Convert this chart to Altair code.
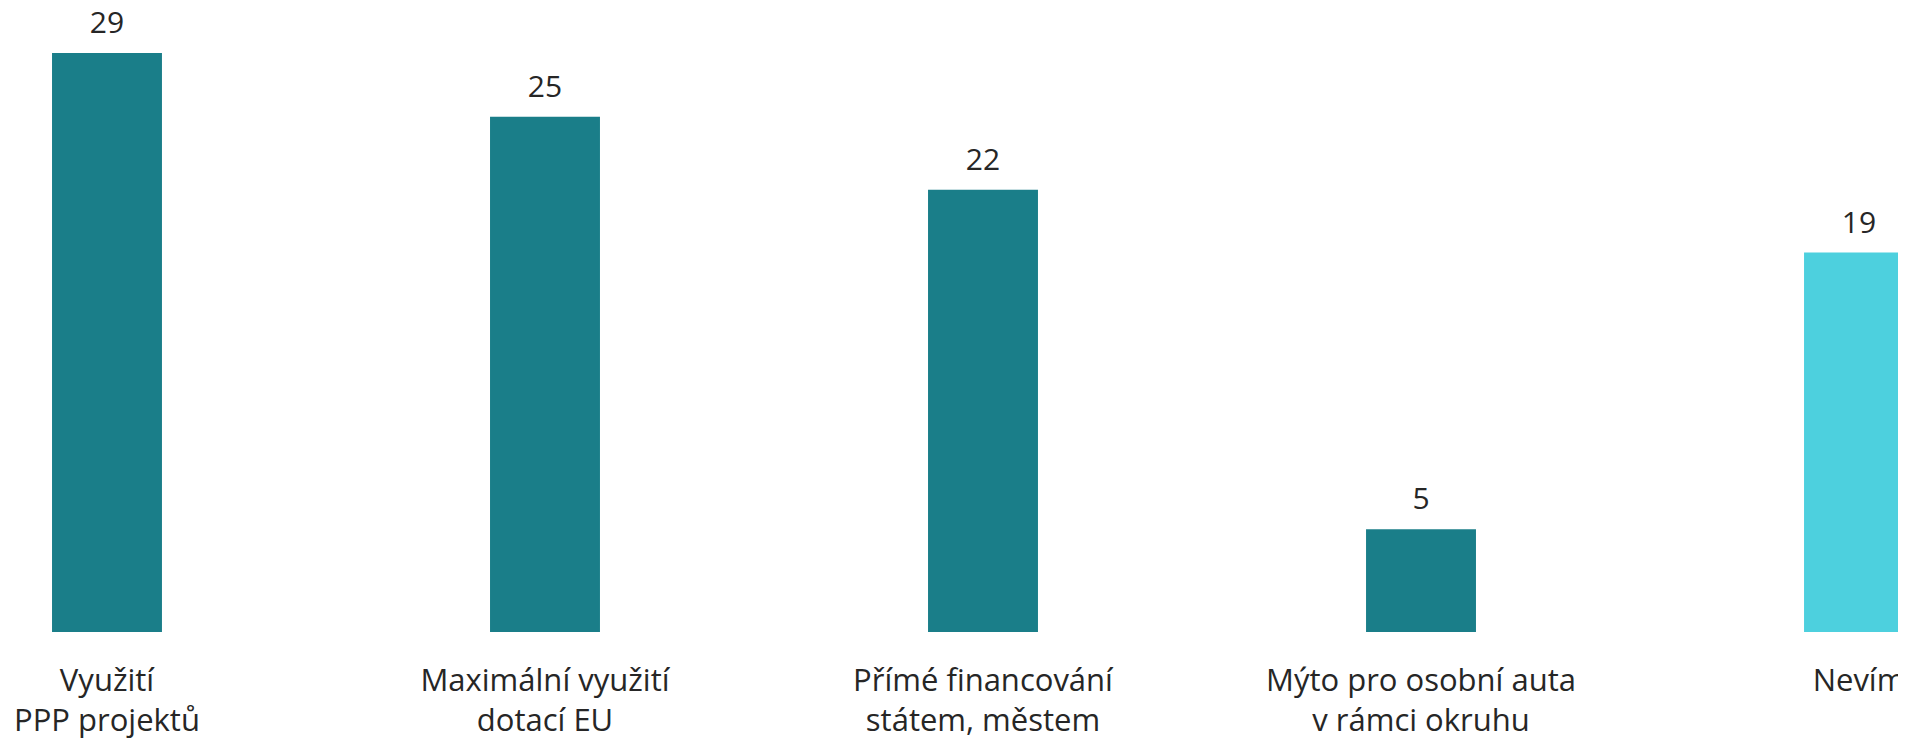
import altair as alt
import pandas as pd

categories = [
    "Využití\nPPP projektů",
    "Maximální využití\ndotací EU",
    "Přímé financování\nstátem, městem",
    "Mýto pro osobní auta\nv rámci okruhu",
    "Nevím",
]
# bar heights
values = [29, 25.8, 22.15, 5.15, 19]
# value labels as printed above the bars
value_labels = ["29", "25", "22", "5", "19"]
groups = ["answer", "answer", "answer", "answer", "dontknow"]
group_colors = ["#1A7E89", "#4DD0DE"]

df = pd.DataFrame(
    {"category": categories, "value": values, "label": value_labels, "group": groups}
)

FONT = "Open Sans"
TEXT_COLOR = "#262626"

x_enc = alt.X(
    "category:N",
    sort=categories,
    scale=alt.Scale(range=[0, 1950], paddingInner=0.749, paddingOuter=0.1005),
    axis=alt.Axis(
        title=None,
        labelAngle=0,
        domain=False,
        ticks=False,
        tickSize=0,
        grid=False,
        labelPadding=58,
        labelBaseline="alphabetic",
        labelLineHeight=40,
        labelExpr="split(datum.label, '\\n')",
        labelFont=FONT,
        labelFontSize=31,
        labelColor=TEXT_COLOR,
        labelLimit=1000,
        labelOverlap=False,
    ),
)
y_enc = alt.Y(
    "value:Q", scale=alt.Scale(domain=[0, 31.25], nice=False, zero=True), axis=None
)

bars = alt.Chart(df).mark_bar(clip=True).encode(
    x=x_enc,
    y=y_enc,
    color=alt.Color(
        "group:N",
        scale=alt.Scale(domain=["answer", "dontknow"], range=group_colors),
        legend=None,
    ),
)

labels = alt.Chart(df).mark_text(
    baseline="alphabetic",
    dy=-20,
    fontSize=30,
    font=FONT,
    color=TEXT_COLOR,
).encode(
    x=alt.X("category:N", sort=categories),
    y=alt.Y("value:Q"),
    text=alt.Text("label:N"),
)

chart = (
    alt.layer(bars, labels)
    .properties(
        width=1890,
        height=624,
        autosize=alt.AutoSizeParams(type="none"),
        padding={"left": 0, "top": 0, "right": 0, "bottom": 107},
    )
    .configure_view(stroke=None)
)

chart.save("out.html", embed_options={"renderer": "svg", "actions": False})
